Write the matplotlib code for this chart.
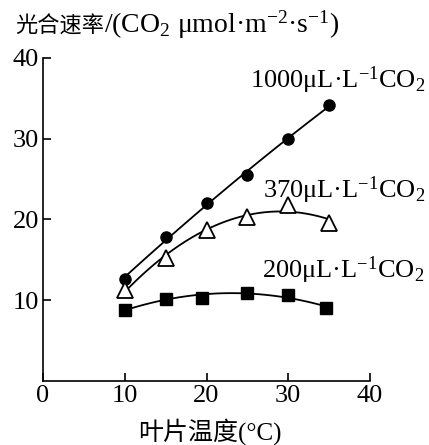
import numpy as np
from matplotlib import pyplot as plt

# données
temp = [10, 15, 20, 25, 30, 35]
co2_1000 = [12.6, 17.8, 22.1, 25.5, 30.0, 34.2]
co2_370 = [11.3, 15.2, 18.7, 20.3, 21.8, 19.6]
temp_200 = [10, 15, 19.5, 25, 30, 34.6]
co2_200 = [8.8, 10.2, 10.3, 10.9, 10.7, 9.0]

xticks = [0, 10, 20, 30, 40]
yticks = [10, 20, 30, 40]

serif = 'Liberation Serif'
cjk = [serif, 'Noto Sans CJK SC']

plt.rcParams['font.family'] = serif
plt.rcParams['mathtext.default'] = 'regular'
plt.rcParams['mathtext.fontset'] = 'custom'
plt.rcParams['mathtext.rm'] = serif

fig = plt.figure(figsize=(4.29, 4.45), dpi=100)
ax = fig.add_axes([43/429, 1 - 381/445, 327/429, 323/445])


def tendance(x, y, x0, x1):
    p = np.polyfit(x, y, 2)
    xx = np.linspace(x0, x1, 100)
    return xx, np.polyval(p, xx)


lw = 1.3
xx, yy = tendance(temp, co2_1000, 10, 35)
ax.plot(xx, yy, color='black', lw=lw)
ax.plot(temp, co2_1000, 'o', color='black', ms=8)

xx, yy = tendance(temp, co2_370, 10, 35)
ax.plot(xx, yy, color='black', lw=lw)
ax.plot(temp, co2_370, '^', mfc='white', mec='black', mew=1.3, ms=11)

xx, yy = tendance(temp_200, co2_200, 10, 34.6)
ax.plot(xx, yy, color='black', lw=lw)
ax.plot(temp_200, co2_200, 's', color='black', ms=8.5)

ax.set_xlim(0, 40)
ax.set_ylim(0, 40)
ax.set_xticks(xticks)
ax.set_yticks(yticks)
ax.spines['top'].set_visible(False)
ax.spines['right'].set_visible(False)
for s in ['left', 'bottom']:
    ax.spines[s].set_linewidth(1.2)
ax.tick_params(direction='in', length=6, width=1.2, labelsize=19, pad=3)

# étiquettes des courbes
fs = 19
ax.text(25.3, 36.3, '1000μL·L$^{-1}$CO$_2$', fontsize=fs, clip_on=False)
ax.text(26.9, 22.7, '370μL·L$^{-1}$CO$_2$', fontsize=fs, clip_on=False)
ax.text(26.8, 12.8, '200μL·L$^{-1}$CO$_2$', fontsize=fs, clip_on=False)

# titre de l'axe y (en haut)
t1 = fig.text(15/429, 1 - 33/445, '光合速率', family='Noto Sans CJK SC',
              fontsize=16, va='baseline')
fig.canvas.draw()
bb = t1.get_window_extent()
fig.text(bb.x1 / fig.bbox.width, 1 - 33/445,
         '/(CO$_2$ μmol·m$^{-2}$·s$^{-1}$)', fontsize=20, va='baseline')

fig.text(210/429, 1 - 440/445, '叶片温度(°C)', family=cjk, fontsize=18,
         ha='center', va='baseline')

fig.savefig('out.png', dpi=100)
